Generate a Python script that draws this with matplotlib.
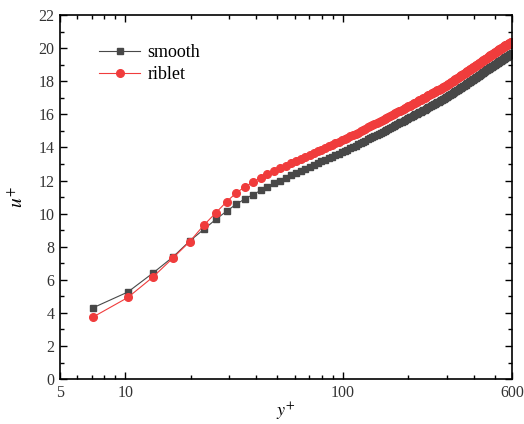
import matplotlib
matplotlib.use("Agg")
import matplotlib.pyplot as plt
from matplotlib.ticker import FixedLocator, NullFormatter

plt.rcParams['font.family'] = ['Liberation Serif', 'DejaVu Serif']
plt.rcParams['mathtext.fontset'] = 'stix'

# wall distance y+ (shared grid)
y_plus = [
    7.10, 10.26, 13.42, 16.58, 19.74, 22.90, 26.06, 29.22, 32.38, 35.54,
    38.70, 41.86, 45.02, 48.18, 51.34, 54.50, 57.66, 60.82, 63.98, 67.14,
    70.30, 73.46, 76.62, 79.78, 82.94, 86.10, 89.26, 92.42, 95.58, 98.74,
    101.90, 105.06, 108.22, 111.38, 114.54, 117.70, 120.86, 124.02, 127.18, 130.34,
    133.50, 136.66, 139.82, 142.98, 146.14, 149.30, 152.46, 155.62, 158.78, 161.94,
    165.10, 168.26, 171.42, 174.58, 177.74, 180.90, 184.06, 187.22, 190.38, 193.54,
    196.70, 199.86, 203.02, 206.18, 209.34, 212.50, 215.66, 218.82, 221.98, 225.14,
    228.30, 231.46, 234.62, 237.78, 240.94, 244.10, 247.26, 250.42, 253.58, 256.74,
    259.90, 263.06, 266.22, 269.38, 272.54, 275.70, 278.86, 282.02, 285.18, 288.34,
    291.50, 294.66, 297.82, 300.98, 304.14, 307.30, 310.46, 313.62, 316.78, 319.94,
    323.10, 326.26, 329.42, 332.58, 335.74, 338.90, 342.06, 345.22, 348.38, 351.54,
    354.70, 357.86, 361.02, 364.18, 367.34, 370.50, 373.66, 376.82, 379.98, 383.14,
    386.30, 389.46, 392.62, 395.78, 398.94, 402.10, 405.26, 408.42, 411.58, 414.74,
    417.90, 421.06, 424.22, 427.38, 430.54, 433.70, 436.86, 440.02, 443.18, 446.34,
    449.50, 452.66, 455.82, 458.98, 462.14, 465.30, 468.46, 471.62, 474.78, 477.94,
    481.10, 484.26, 487.42, 490.58, 493.74, 496.90, 500.06, 503.22, 506.38, 509.54,
    512.70, 515.86, 519.02, 522.18, 525.34, 528.50, 531.66, 534.82, 537.98, 541.14,
    544.30, 547.46, 550.62, 553.78, 556.94, 560.10, 563.26, 566.42, 569.58, 572.74,
    575.90, 579.06, 582.22, 585.38, 588.54, 591.70, 594.86, 598.02,
]

u_smooth = [
    4.31, 5.26, 6.42, 7.39, 8.34, 9.04, 9.65, 10.15, 10.57, 10.90,
    11.15, 11.40, 11.62, 11.82, 12.00, 12.16, 12.31, 12.45, 12.58, 12.71,
    12.83, 12.94, 13.05, 13.15, 13.25, 13.35, 13.44, 13.53, 13.62, 13.70,
    13.78, 13.86, 13.94, 14.02, 14.10, 14.18, 14.25, 14.33, 14.41, 14.49,
    14.57, 14.63, 14.70, 14.76, 14.82, 14.89, 14.95, 15.01, 15.07, 15.14,
    15.20, 15.25, 15.30, 15.36, 15.41, 15.46, 15.51, 15.56, 15.62, 15.67,
    15.72, 15.76, 15.81, 15.85, 15.90, 15.94, 15.99, 16.03, 16.08, 16.12,
    16.17, 16.21, 16.25, 16.29, 16.33, 16.37, 16.42, 16.46, 16.50, 16.54,
    16.58, 16.62, 16.65, 16.69, 16.73, 16.77, 16.80, 16.84, 16.88, 16.91,
    16.95, 16.99, 17.02, 17.06, 17.10, 17.14, 17.17, 17.21, 17.25, 17.28,
    17.32, 17.36, 17.39, 17.43, 17.46, 17.50, 17.53, 17.57, 17.60, 17.64,
    17.67, 17.70, 17.74, 17.77, 17.80, 17.84, 17.87, 17.90, 17.93, 17.97,
    18.00, 18.03, 18.06, 18.09, 18.12, 18.15, 18.18, 18.21, 18.24, 18.27,
    18.30, 18.33, 18.36, 18.39, 18.42, 18.45, 18.48, 18.51, 18.54, 18.57,
    18.60, 18.63, 18.65, 18.68, 18.71, 18.74, 18.76, 18.79, 18.82, 18.84,
    18.87, 18.89, 18.92, 18.94, 18.97, 18.99, 19.01, 19.04, 19.06, 19.09,
    19.11, 19.13, 19.15, 19.18, 19.20, 19.22, 19.24, 19.26, 19.29, 19.31,
    19.33, 19.35, 19.37, 19.39, 19.41, 19.44, 19.46, 19.48, 19.50, 19.52,
    19.54, 19.56, 19.58, 19.60, 19.62, 19.64, 19.66, 19.68,
]

u_riblet = [
    3.75, 4.93, 6.18, 7.33, 8.30, 9.29, 10.05, 10.72, 11.26, 11.62,
    11.92, 12.17, 12.38, 12.57, 12.74, 12.88, 13.03, 13.17, 13.30, 13.43,
    13.55, 13.66, 13.77, 13.87, 13.97, 14.07, 14.16, 14.25, 14.34, 14.42,
    14.50, 14.58, 14.66, 14.74, 14.82, 14.90, 14.97, 15.05, 15.13, 15.21,
    15.29, 15.35, 15.42, 15.48, 15.54, 15.61, 15.67, 15.73, 15.79, 15.86,
    15.92, 15.97, 16.02, 16.08, 16.13, 16.18, 16.23, 16.28, 16.34, 16.39,
    16.44, 16.48, 16.53, 16.57, 16.62, 16.66, 16.71, 16.75, 16.80, 16.84,
    16.89, 16.93, 16.97, 17.01, 17.05, 17.09, 17.14, 17.18, 17.22, 17.26,
    17.30, 17.34, 17.37, 17.41, 17.45, 17.49, 17.52, 17.56, 17.60, 17.63,
    17.67, 17.71, 17.74, 17.78, 17.82, 17.86, 17.89, 17.93, 17.97, 18.00,
    18.04, 18.08, 18.11, 18.15, 18.18, 18.22, 18.25, 18.29, 18.32, 18.36,
    18.39, 18.42, 18.46, 18.49, 18.52, 18.56, 18.59, 18.62, 18.65, 18.69,
    18.72, 18.75, 18.78, 18.81, 18.84, 18.87, 18.90, 18.93, 18.96, 18.99,
    19.02, 19.05, 19.08, 19.11, 19.14, 19.17, 19.20, 19.23, 19.26, 19.29,
    19.32, 19.35, 19.37, 19.40, 19.43, 19.46, 19.48, 19.51, 19.54, 19.56,
    19.59, 19.61, 19.64, 19.66, 19.69, 19.71, 19.73, 19.76, 19.78, 19.81,
    19.83, 19.85, 19.87, 19.90, 19.92, 19.94, 19.96, 19.98, 20.01, 20.03,
    20.05, 20.07, 20.09, 20.11, 20.13, 20.16, 20.18, 20.20, 20.22, 20.24,
    20.26, 20.28, 20.30, 20.32, 20.34, 20.36, 20.38, 20.40,
]

x_ticks = [5, 10, 100, 600]
x_tick_labels = ['5', '10', '100', '600']
x_minor = [6, 7, 8, 9, 20, 30, 40, 50, 60, 70, 80, 90, 200, 300, 400, 500]

fig = plt.figure(figsize=(5.24, 4.24), dpi=100)
ax = fig.add_axes([0.1145, 0.106, 0.8625, 0.8585])

ax.plot(y_plus, u_smooth, color='#484848', marker='s', markersize=5, lw=0.8,
        label='smooth')
ax.plot(y_plus, u_riblet, color='#f03c3c', marker='o', markersize=5.5, lw=0.8,
        label='riblet')

ax.set_xscale('log')
ax.set_xlim(5, 600)
ax.set_ylim(0, 22)
ax.xaxis.set_major_locator(FixedLocator(x_ticks))
ax.set_xticklabels(x_tick_labels)
ax.xaxis.set_minor_locator(FixedLocator(x_minor))
ax.xaxis.set_minor_formatter(NullFormatter())
ax.set_yticks(range(0, 23, 2))
ax.set_yticks(range(1, 22, 2), minor=True)

ax.tick_params(which='both', direction='in', top=True, right=True,
               labelsize=11.5, width=1.0, labelcolor='#333333')
ax.tick_params(which='major', length=5, pad=4)
ax.tick_params(which='minor', length=3)
for s in ax.spines.values():
    s.set_linewidth(1.2)

ax.set_xlabel(r'$y^{+}$', fontsize=13, labelpad=0)
ax.set_ylabel(r'$u^{+}$', fontsize=14, labelpad=8)

ax.legend(loc='upper left', bbox_to_anchor=(0.05, 0.965), frameon=False,
          fontsize=13, handlelength=2.3, handletextpad=0.4, labelspacing=0.3)

fig.savefig('out.png', dpi=100)
